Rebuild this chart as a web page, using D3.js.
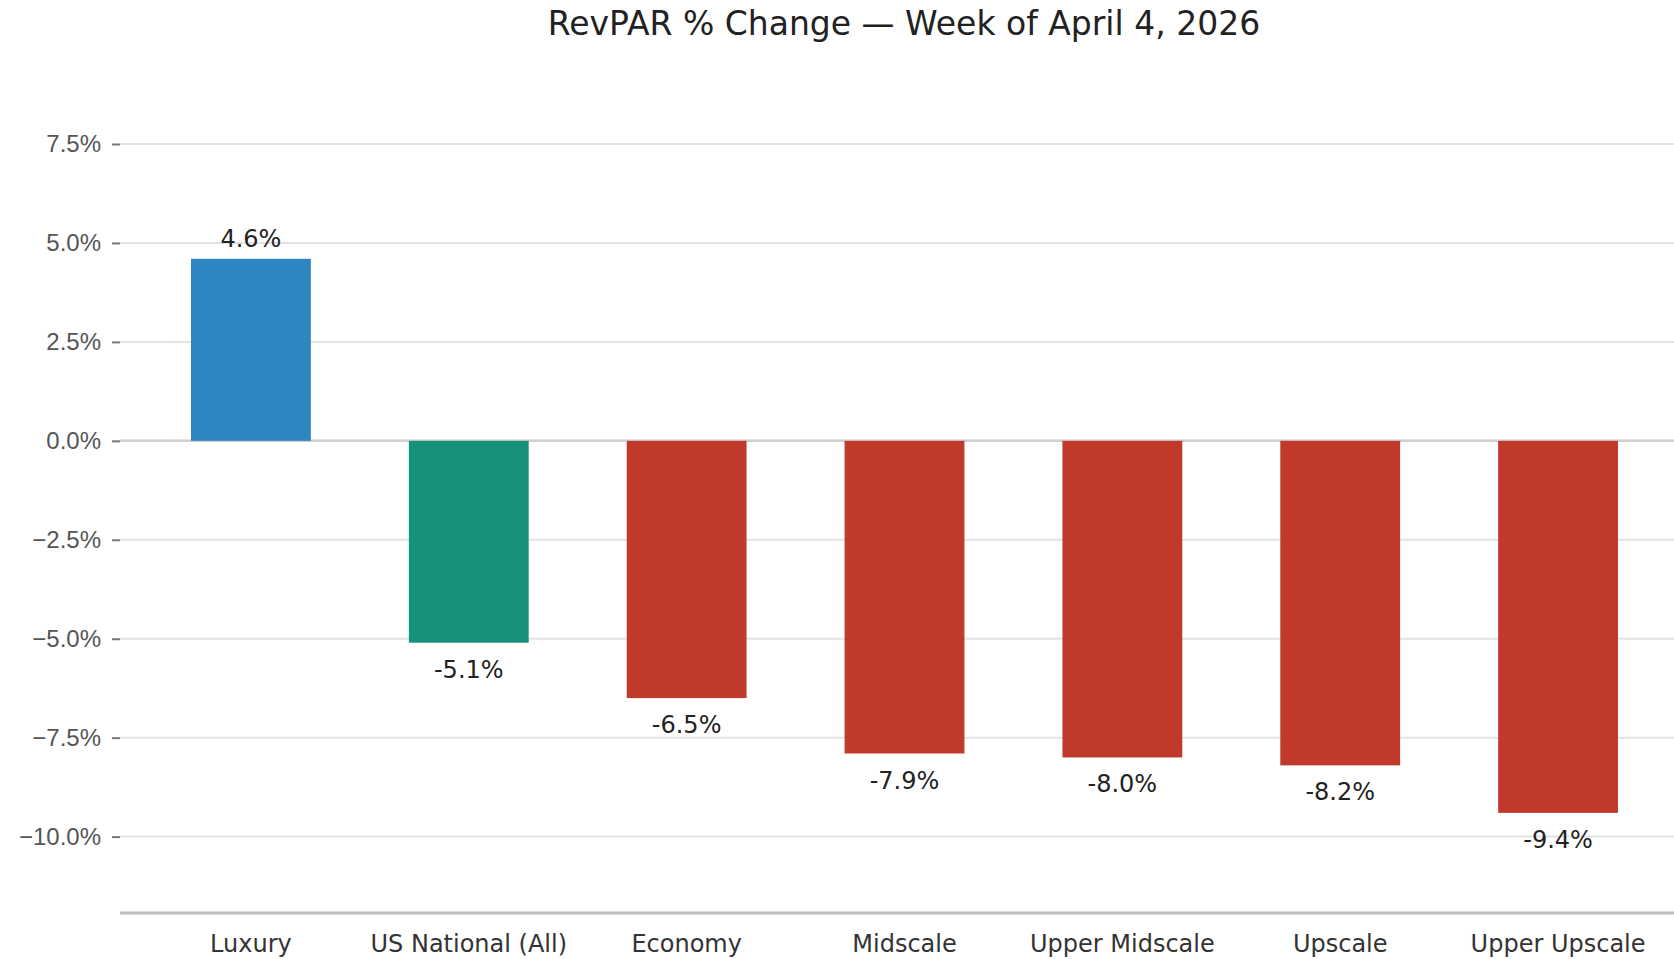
<!DOCTYPE html>
<html lang="en">
<head>
  <meta charset="UTF-8">
  <title>RevPAR % Change</title>
  <script src="https://d3js.org/d3.v7.min.js"></script>
  <style>
    html, body {
      margin: 0;
      padding: 0;
      background: #fff;
    }
    svg {
      display: block;
      font-family: "DejaVu Sans", sans-serif;
    }
    .y-axis text {
      font-size: 24px;
      fill: #555;
    }
    .y-axis line {
      stroke: #777;
      stroke-width: 2px;
    }
    .grid line {
      stroke: #e3e3e3;
      stroke-width: 2px;
    }
    .x-label {
      font-size: 24px;
      fill: #333;
    }
    .value-label {
      font-size: 24px;
      fill: #222;
    }
  </style>
</head>
<body>
  <div id="chart"></div>

  <script>
    const categories = ['Luxury', 'US National (All)', 'Economy', 'Midscale', 'Upper Midscale', 'Upscale', 'Upper Upscale'];
    const changes = [4.6, -5.1, -6.5, -7.9, -8.0, -8.2, -9.4];
    const barColors = ['#2e86c1', '#16917a', '#c0392b', '#c0392b', '#c0392b', '#c0392b', '#c0392b'];
    const yTicks = [-10, -7.5, -5, -2.5, 0, 2.5, 5, 7.5];
    const title = 'RevPAR % Change \u2014 Week of April 4, 2026';

    const width = 1674;
    const height = 959;
    const plotLeft = 120;
    const plotRight = width;

    const svg = d3.select('#chart').append('svg')
      .attr('width', width)
      .attr('height', height);

    // y: 0 sits at ~440.7px, about 39.6px per percentage point
    const y = d3.scaleLinear()
      .domain([-11.93, 7.5])
      .range([913, 144]);

    const x = d3.scaleBand()
      .domain(categories)
      .range([142, 1667])
      .paddingInner(0.45)
      .paddingOuter(0.225);

    // grid lines
    svg.append('g')
      .attr('class', 'grid')
      .selectAll('line')
      .data(yTicks)
      .join('line')
      .attr('x1', plotLeft)
      .attr('x2', plotRight)
      .attr('y1', d => y(d))
      .attr('y2', d => y(d));

    // zero line
    svg.append('line')
      .attr('x1', plotLeft)
      .attr('x2', plotRight)
      .attr('y1', y(0))
      .attr('y2', y(0))
      .attr('stroke', '#cfcfcf')
      .attr('stroke-width', 2.5);

    // y axis
    const yAxis = d3.axisLeft(y)
      .tickValues(yTicks)
      .tickSize(8)
      .tickPadding(11)
      .tickFormat(d => d3.format('.1f')(d) + '%');

    const yG = svg.append('g')
      .attr('class', 'y-axis')
      .attr('transform', `translate(${plotLeft},0)`)
      .call(yAxis);
    yG.select('.domain').remove();
    yG.selectAll('text').attr('font-family', null).attr('font-size', null);

    // bars
    svg.append('g')
      .selectAll('rect')
      .data(changes)
      .join('rect')
      .attr('x', (d, i) => x(categories[i]))
      .attr('width', x.bandwidth())
      .attr('y', d => y(Math.max(0, d)))
      .attr('height', d => Math.abs(y(d) - y(0)))
      .attr('fill', (d, i) => barColors[i]);

    // value labels
    svg.append('g')
      .selectAll('text')
      .data(changes)
      .join('text')
      .attr('class', 'value-label')
      .attr('text-anchor', 'middle')
      .attr('x', (d, i) => x(categories[i]) + x.bandwidth() / 2)
      .attr('y', d => d >= 0 ? y(d) - 12 : y(d) + 35)
      .text(d => d.toFixed(1) + '%');

    // bottom spine
    svg.append('line')
      .attr('x1', plotLeft)
      .attr('x2', plotRight)
      .attr('y1', y.range()[0])
      .attr('y2', y.range()[0])
      .attr('stroke', '#bdbdbd')
      .attr('stroke-width', 3);

    // x labels
    svg.append('g')
      .selectAll('text')
      .data(categories)
      .join('text')
      .attr('class', 'x-label')
      .attr('text-anchor', 'middle')
      .attr('x', d => x(d) + x.bandwidth() / 2)
      .attr('y', 952)
      .text(d => d);

    svg.append('text')
      .attr('x', 904)
      .attr('y', 35)
      .attr('text-anchor', 'middle')
      .attr('font-size', 33)
      .attr('fill', '#222')
      .text(title);
  </script>
</body>
</html>
